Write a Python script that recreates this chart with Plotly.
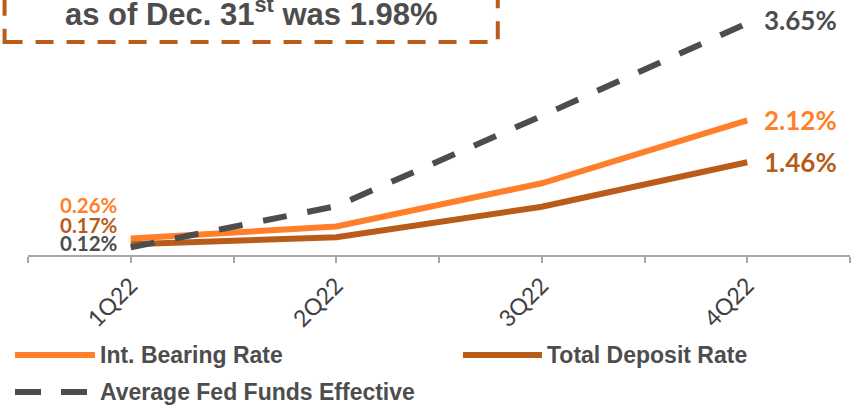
import plotly.graph_objects as go

# Quarterly rates (%)
quarters = ["1Q22", "2Q22", "3Q22", "4Q22"]
int_bearing = [0.26, 0.45, 1.13, 2.12]
total_deposit = [0.17, 0.28, 0.76, 1.46]
fed_funds = [0.12, 0.77, 2.19, 3.65]

series_names = ["Int. Bearing Rate", "Total Deposit Rate", "Average Fed Funds Effective"]
callout_text = "as of Dec. 31<sup>st</sup> was 1.98%"

ORANGE = "#FF7F2A"
BROWN = "#B95C19"
DARK = "#4D4D4D"
AXIS = "#A6A6A6"

x = list(range(len(quarters)))

fig = go.Figure()
fig.add_trace(go.Scatter(x=x, y=int_bearing, mode="lines", name=series_names[0],
                         line=dict(color=ORANGE, width=6)))
fig.add_trace(go.Scatter(x=x, y=total_deposit, mode="lines", name=series_names[1],
                         line=dict(color=BROWN, width=6)))
fig.add_trace(go.Scatter(x=x, y=fed_funds, mode="lines", name=series_names[2],
                         line=dict(color=DARK, width=6, dash="24px,21px")))

label_font = "Lato"
# end-of-line value labels
for vals, col in [(fed_funds, DARK), (int_bearing, ORANGE), (total_deposit, BROWN)]:
    fig.add_annotation(x=x[-1], y=vals[-1], text=f"<b>{vals[-1]:.2f}%</b>",
                       showarrow=False, xanchor="left", yanchor="middle",
                       xshift=15, yshift=3 if vals is fed_funds else 0,
                       font=dict(family=label_font, size=26, color=col))
# start-of-line value labels, stacked
for vals, col, dy in [(int_bearing, ORANGE, 33), (total_deposit, BROWN, 19), (fed_funds, DARK, 4)]:
    fig.add_annotation(x=x[0], y=vals[0], text=f"<b>{vals[0]:.2f}%</b>",
                       showarrow=False, xanchor="right", yanchor="middle",
                       xshift=-11, yshift=dy,
                       font=dict(family=label_font, size=20.5, color=col))

# callout box
fig.add_shape(type="rect", xref="paper", yref="paper",
              x0=-0.0285, x1=0.5715, y0=0.8386, y1=1.12,
              line=dict(color=BROWN, width=4, dash="18px,13px"))
fig.add_annotation(xref="paper", yref="paper", x=0.2715, y=0.958,
                   text=f"<b>{callout_text}</b>", showarrow=False,
                   xanchor="center", yanchor="middle",
                   font=dict(family="Liberation Sans", size=31, color=DARK))

# legend
legend_font = dict(family="Liberation Sans", size=23, color=DARK)
legend_items = [
    (series_names[0], ORANGE, "solid", -0.0158, 0.0815, -0.3937),
    (series_names[1], BROWN, "solid", 0.5292, 0.6253, -0.3937),
    (series_names[2], DARK, "26px,20px", -0.0158, 0.0815, -0.539),
]
for name, col, dash, lx0, lx1, ly in legend_items:
    fig.add_shape(type="line", xref="paper", yref="paper",
                  x0=lx0, x1=lx1, y0=ly, y1=ly,
                  line=dict(color=col, width=6, dash=dash))
    fig.add_annotation(xref="paper", yref="paper", x=lx1 + 0.004, y=ly,
                       text=f"<b>{name}</b>", showarrow=False,
                       xanchor="left", yanchor="middle", font=legend_font)

tickvals = [v / 2 for v in range(-1, 8)]
ticktext = [quarters[int(v)] if v == int(v) and 0 <= v < len(quarters) else "" for v in tickvals]

fig.update_layout(
    width=863, height=405,
    margin=dict(l=28, r=13, t=1, b=150),
    paper_bgcolor="white", plot_bgcolor="white",
    showlegend=False,
    xaxis=dict(range=[-0.5, 3.5], tickvals=tickvals, ticktext=ticktext,
               tickangle=-45, ticks="outside", ticklen=6, tickwidth=2,
               tickcolor=AXIS, showline=True, linecolor=AXIS, linewidth=2,
               showgrid=False, zeroline=False,
               tickfont=dict(family="Lato", size=23, color="#404040")),
    yaxis=dict(range=[0, 4.0], visible=False, showgrid=False, zeroline=False),
)

fig.write_html("out.html")
